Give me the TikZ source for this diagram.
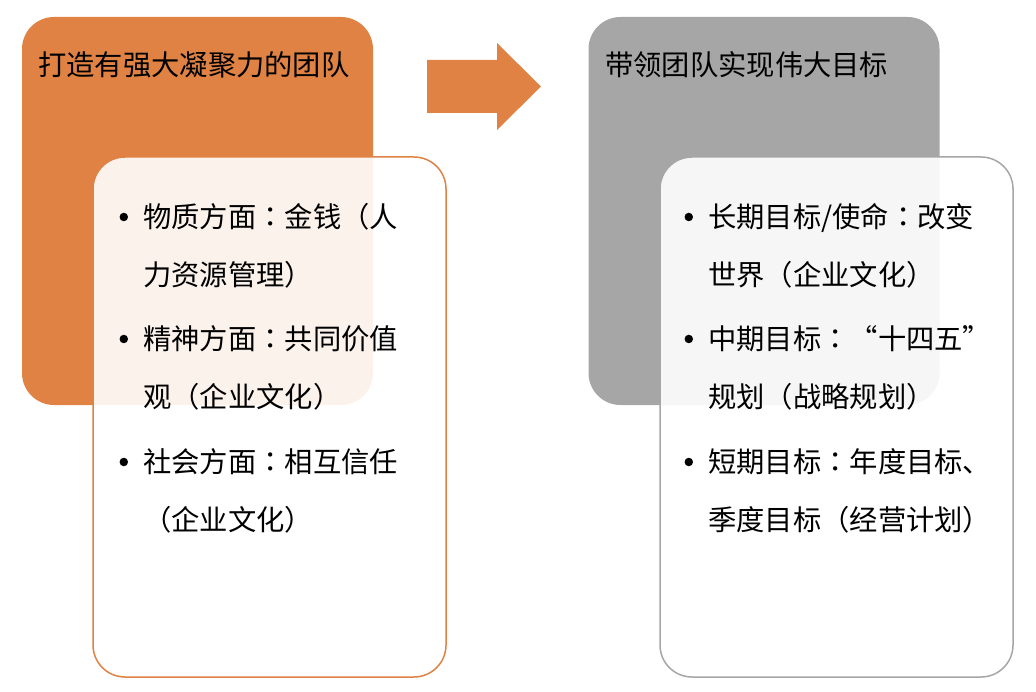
\documentclass[tikz,border=0pt]{standalone}
\usepackage{fontspec}
\setmainfont{Noto Sans CJK SC}
\newfontfamily\tcfont{Noto Sans CJK TC}
\newcommand\midcolon{{\tcfont ：}}
\usetikzlibrary{positioning}
\definecolor{teamorange}{HTML}{DF8244}
\definecolor{goalgray}{HTML}{A6A6A6}

\begin{document}
\begin{tikzpicture}[x=1pt, y=-1pt,
  outerbox/.style={rounded corners=32pt, minimum width=351pt, minimum height=388pt, inner sep=0pt},
  innerbox/.style={draw, line width=1.5pt, fill=white, fill opacity=0.9, rounded corners=32pt,
    minimum width=353pt, minimum height=520pt, inner sep=0pt},
  textline/.style={anchor=west, inner sep=0pt, text height=25pt, text depth=3.4pt,
    font=\fontsize{28.3}{34}\selectfont},
  bulletdot/.style={circle, fill=black, minimum size=8.5pt, inner sep=0pt, left=14.75pt of #1}]
  \useasboundingbox (0,0) rectangle (1036,692);
  % left group
  \node[outerbox, fill=teamorange] (team) at (197.5,211) {};
  \node[textline] (teamtitle) at (38,65) {打造有强大凝聚力的团队};
  \node[innerbox, draw=teamorange] (teamlist) at (269.5,417) {};
  \node[textline] (l1a) at (143,217) {物质方面\midcolon 金钱（人};
  \node[textline] (l1b) at (143,275) {力资源管理）};
  \node[textline] (l2a) at (143,339) {精神方面\midcolon 共同价值};
  \node[textline] (l2b) at (143,397) {观（企业文化）};
  \node[textline] (l3a) at (143,462) {社会方面\midcolon 相互信任};
  \node[textline] (l3b) at (143,520) {（企业文化）};
  \node[bulletdot=l1a] {};
  \node[bulletdot=l2a] {};
  \node[bulletdot=l3a] {};
  % arrow
  \fill[teamorange] (427,60) -- (497,60) -- (497,43) -- (541,86.5) -- (497,130) -- (497,113) -- (427,113) -- cycle;
  % right group
  \node[outerbox, fill=goalgray] (goal) at (764,211) {};
  \node[textline] (goaltitle) at (605,65) {带领团队实现伟大目标};
  \node[innerbox, draw=goalgray] (goallist) at (836.5,417) {};
  \node[textline] (r1a) at (708,217) {长期目标/使命\midcolon 改变};
  \node[textline] (r1b) at (708,275) {世界（企业文化）};
  \node[textline] (r2a) at (708,339) {中期目标\midcolon “十四五”};
  \node[textline] (r2b) at (708,397) {规划（战略规划）};
  \node[textline] (r3a) at (708,462) {短期目标\midcolon 年度目标、};
  \node[textline] (r3b) at (708,520) {季度目标（经营计划）};
  \node[bulletdot=r1a] {};
  \node[bulletdot=r2a] {};
  \node[bulletdot=r3a] {};
\end{tikzpicture}
\end{document}
